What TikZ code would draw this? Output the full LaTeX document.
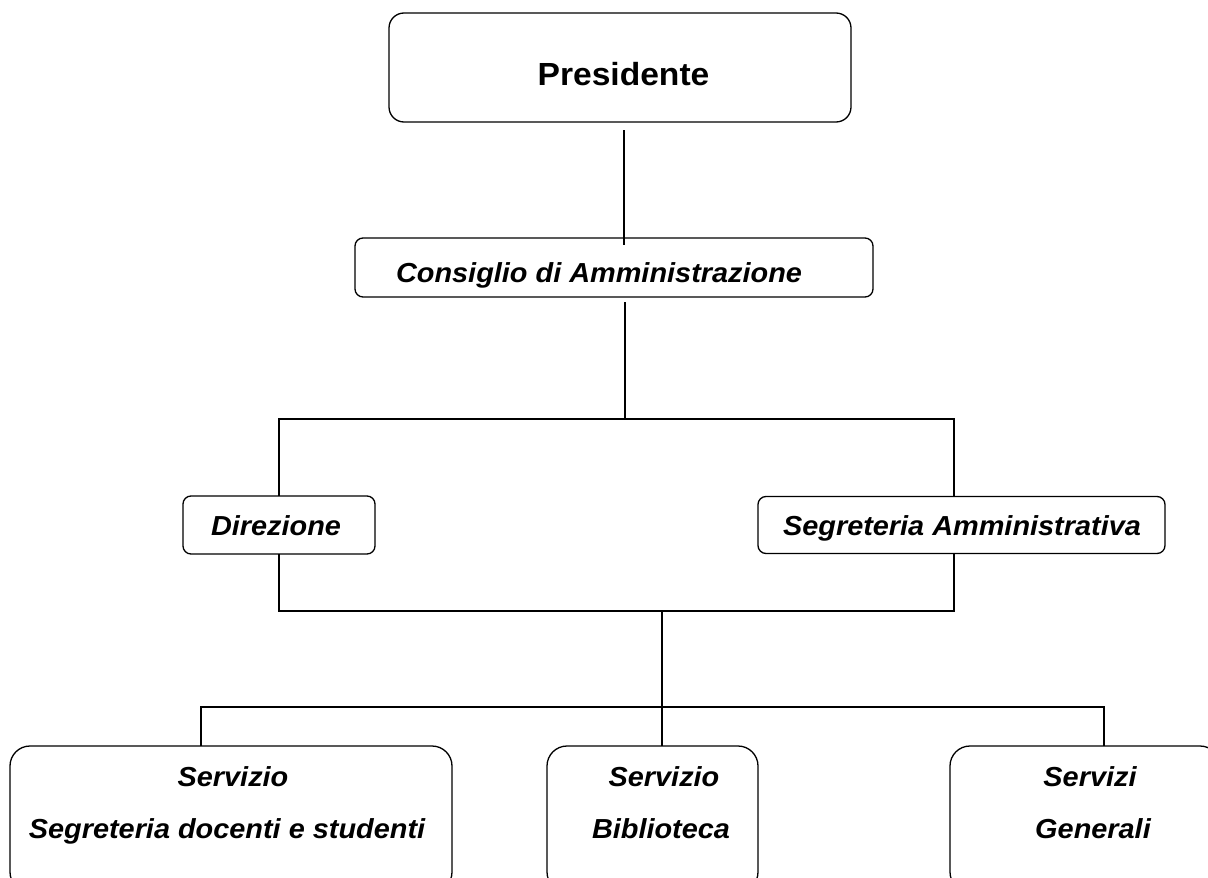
\documentclass[tikz,border=0pt]{standalone}
\usepackage{fontspec}
\setmainfont[FakeStretch=1.05]{Liberation Sans}
\begin{document}
\begin{tikzpicture}[x=1pt,y=-1pt,
  box/.style={draw=black,line width=1.3pt,fill=none,inner sep=0pt,outer sep=0pt},
  lbl/.style={anchor=base,inner sep=0pt,font=\fontsize{27.5}{27.5}\selectfont\bfseries\itshape},
  toplbl/.style={anchor=base,inner sep=0pt,font=\fontsize{32}{32}\selectfont\bfseries},
  conn/.style={draw=black,line width=1.3pt}]
\useasboundingbox (0,0) rectangle (1208,878);
% boxes
\node[box,rounded corners=15pt,minimum width=462pt,minimum height=109pt] (pres) at (620,67.5) {};
\node[box,rounded corners=8pt,minimum width=518pt,minimum height=59pt] (cons) at (614,267.5) {};
\node[box,rounded corners=8pt,minimum width=192pt,minimum height=58pt] (dir) at (279,525) {};
\node[box,rounded corners=8pt,minimum width=407pt,minimum height=57pt] (sa) at (961.5,525) {};
\node[box,rounded corners=20pt,minimum width=442pt,minimum height=146pt] (s1) at (231,819) {};
\node[box,rounded corners=20pt,minimum width=211pt,minimum height=146pt] (s2) at (652.5,819) {};
\node[box,rounded corners=20pt,minimum width=270pt,minimum height=146pt] (s3) at (1085,819) {};
% texts
\node[toplbl] (presT) at (623.5,85) {Presidente};
\node[lbl] (consT) at (599,282) {Consiglio di Amministrazione};
\node[lbl] (dirT) at (276,535) {Direzione};
\node[lbl] (saT) at (962,535) {Segreteria Amministrativa};
\node[lbl] (s1a) at (233,786) {Servizio};
\node[lbl] (s1b) at (227,838) {Segreteria docenti e studenti};
\node[lbl] (s2a) at (664,786) {Servizio};
\node[lbl] (s2b) at (661,838) {Biblioteca};
\node[lbl] (s3a) at (1090,786) {Servizi};
\node[lbl] (s3b) at (1093,838) {Generali};
% connector coordinates
\coordinate (p1) at (624,130);
\coordinate (p2) at (624,245);
\coordinate (c1) at (625,302);
\coordinate (f1) at (625,419);
\coordinate (saTop) at (954,496);
\coordinate (saBot) at (954,554);
\coordinate (f2) at (662,611);
\coordinate (f3) at (662,707);
\coordinate (s1Top) at (201,746);
\coordinate (s3Top) at (1104,746);
% connectors
\draw[conn] (p1) -- (p2);
\draw[conn] (c1) -- (f1);
\draw[conn] (dir.north) |- (f1) -| (saTop);
\draw[conn] (dir.south) |- (f2) -| (saBot);
\draw[conn] (f2) -- (s2.north -| f2);
\draw[conn] (s1Top) |- (f3) -| (s3Top);
\end{tikzpicture}
\end{document}
